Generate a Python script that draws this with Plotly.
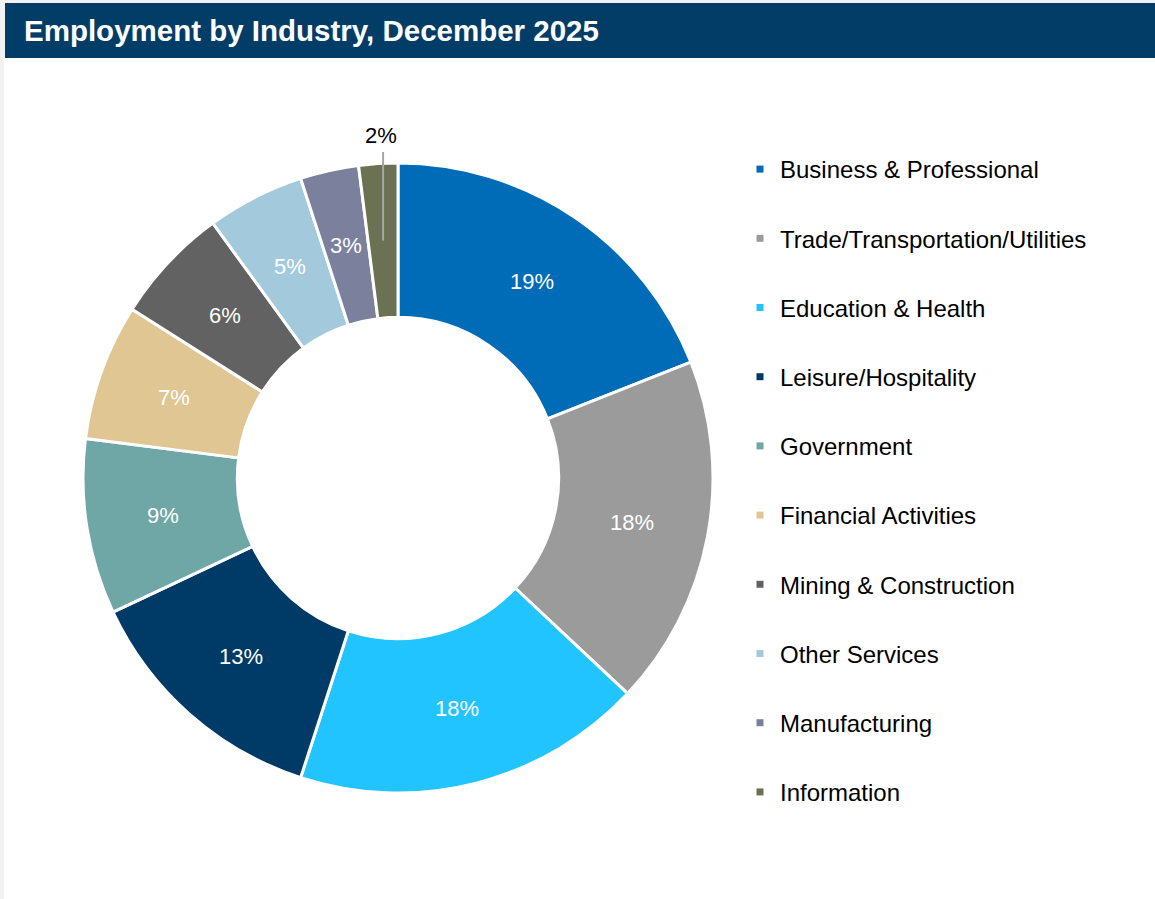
import math
import plotly.graph_objects as go

# Employment share by industry (percent of total), December 2025
industries = [
    "Business & Professional",
    "Trade/Transportation/Utilities",
    "Education & Health",
    "Leisure/Hospitality",
    "Government",
    "Financial Activities",
    "Mining & Construction",
    "Other Services",
    "Manufacturing",
    "Information",
]
shares = [19, 18, 18, 13, 9, 7, 6, 5, 3, 2]
colors = [
    "#006BB6", "#9B9B9B", "#22C4FF", "#003A66", "#6EA7A6",
    "#DFC692", "#626262", "#A3C9DC", "#7B819D", "#6B7253",
]
title_text = "Employment by Industry, December 2025"

W, H = 1155, 899
FONT = "Arial, Liberation Sans, sans-serif"

# Donut geometry in pixels
cx, cy, R = 398, 478, 315
hole = 0.51
r_mid = R * (1 + hole) / 2

fig = go.Figure()
fig.add_trace(go.Pie(
    labels=industries,
    values=shares,
    sort=False,
    direction="clockwise",
    rotation=0,
    hole=hole,
    marker=dict(colors=colors, line=dict(color="#FFFFFF", width=3)),
    textinfo="none",
    showlegend=False,
    hoverinfo="label+value",
    domain=dict(
        x=[(cx - R) / W, (cx + R) / W],
        y=[1 - (cy + R) / H, 1 - (cy - R) / H],
    ),
))

# Legend entries: one square marker per industry, each in its own group
for name, col in zip(industries, colors):
    fig.add_trace(go.Scatter(
        x=[None], y=[None], mode="markers", name=name,
        legendgroup=name,
        marker=dict(symbol="square", size=7, color=col),
        hoverinfo="skip",
    ))

# Percentage labels centred in the ring at each slice's mid-angle;
# the smallest slice gets its label above the ring with a leader line
total = sum(shares)
annotations = []
shapes = []
cum = 0
for i, v in enumerate(shares):
    ang = 2 * math.pi * (cum + v / 2) / total
    cum += v
    px = cx + r_mid * math.sin(ang)
    py = cy - r_mid * math.cos(ang)
    if v <= 2:
        y_top = cy - R - 11
        shapes.append(dict(
            type="line", xref="paper", yref="paper",
            x0=px / W, x1=px / W, y0=1 - py / H, y1=1 - y_top / H,
            line=dict(color="#A6A6A6", width=2), layer="above"))
        annotations.append(dict(
            text=f"{v}%", xref="paper", yref="paper",
            x=(px - 2) / W, y=1 - (cy - R - 27) / H, xanchor="center", yanchor="middle",
            showarrow=False, font=dict(family=FONT, size=22, color="#000000")))
    else:
        annotations.append(dict(
            text=f"{v}%", xref="paper", yref="paper",
            x=px / W, y=1 - py / H, xanchor="center", yanchor="middle",
            showarrow=False, font=dict(family=FONT, size=22, color="#FFFFFF")))

annotations.append(dict(
    text="<b>" + title_text + "</b>", xref="paper", yref="paper",
    x=22 / W, y=1 - 31 / H, xanchor="left", yanchor="middle",
    showarrow=False, font=dict(family=FONT, size=29.5, color="#FFFFFF"),
))

shapes = [
    # white chart panel on the light gray page
    dict(type="rect", xref="paper", yref="paper", x0=4 / W, x1=1, y0=0, y1=1 - 58 / H,
         fillcolor="#FFFFFF", line=dict(width=0), layer="below"),
    # title banner
    dict(type="rect", xref="paper", yref="paper", x0=5 / W, x1=1, y0=1 - 58 / H, y1=1 - 3 / H,
         fillcolor="#023D68", line=dict(width=0), layer="below"),
] + shapes

fig.update_layout(
    width=W, height=H,
    margin=dict(l=0, r=0, t=0, b=0),
    paper_bgcolor="#F2F2F2",
    plot_bgcolor="rgba(0,0,0,0)",
    xaxis=dict(visible=False),
    yaxis=dict(visible=False),
    shapes=shapes,
    annotations=annotations,
    legend=dict(
        x=740 / W, y=1 - 147 / H, xanchor="left", yanchor="top",
        font=dict(family=FONT, size=24, color="#000000"),
        bgcolor="rgba(0,0,0,0)",
        tracegroupgap=35,
        itemclick=False, itemdoubleclick=False,
    ),
)

fig.write_html("out.html")
